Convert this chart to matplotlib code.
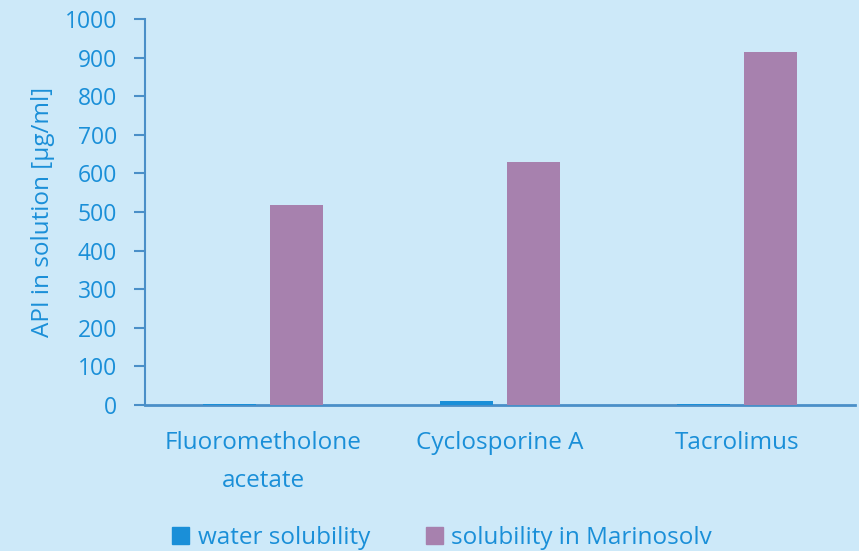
import matplotlib
matplotlib.use("Agg")
import matplotlib.pyplot as plt
import numpy as np
from matplotlib.patches import Patch

categories = ["Fluorometholone\nacetate", "Cyclosporine A", "Tacrolimus"]
water = [3, 10, 2]
marinosolv = [518, 630, 914]
series_names = ["water solubility", "solubility in Marinosolv"]
yticks = [0, 100, 200, 300, 400, 500, 600, 700, 800, 900, 1000]

bg = "#CDE9F9"
txt = "#1A8FD8"
c_water = "#1A8FD8"
c_mar = "#A781AE"
axis_c = "#4A8FC8"

plt.rcParams['font.family'] = ['Open Sans', 'DejaVu Sans']
fs = 16.5
fs2 = 17.5

fig = plt.figure(figsize=(8.59, 5.51), dpi=100, facecolor=bg)
ax = fig.add_axes([145/859, 1-405/551, 710/859, 386/551], facecolor=bg)

x = np.arange(len(categories))
w = 0.224
off = 0.141
ax.bar(x - off, water, w, color=c_water, zorder=3)
ax.bar(x + off, marinosolv, w, color=c_mar, zorder=3)

ax.set_xlim(-0.5, 2.5)
ax.set_ylim(0, 1000)
ax.set_yticks(yticks)
ax.set_yticklabels([str(t) for t in yticks])
ax.set_xticks(x)
ax.set_xticklabels(categories, linespacing=1.75)

for s in ["top", "right"]:
    ax.spines[s].set_visible(False)
ax.spines["left"].set_color(axis_c)
ax.spines["bottom"].set_color(axis_c)
ax.spines["left"].set_linewidth(1.5)
ax.spines["bottom"].set_linewidth(2)
ax.tick_params(axis="y", colors=axis_c, labelcolor=txt, labelsize=fs, length=8, width=1.5, pad=12)
ax.tick_params(axis="x", length=0, labelcolor=txt, labelsize=fs2, pad=19)
ax.set_ylabel("API in solution [µg/ml]", color=txt, fontsize=fs2, labelpad=7)

handles = [Patch(color=c_water), Patch(color=c_mar)]
fig.legend(handles, series_names, loc="center", bbox_to_anchor=(442/859, 1-538/551), ncol=2,
           frameon=False, fontsize=fs2, labelcolor=txt, handlelength=0.7, handleheight=0.7,
           handletextpad=0.35, columnspacing=2.3)

fig.savefig("out.png", dpi=100, facecolor=bg)
